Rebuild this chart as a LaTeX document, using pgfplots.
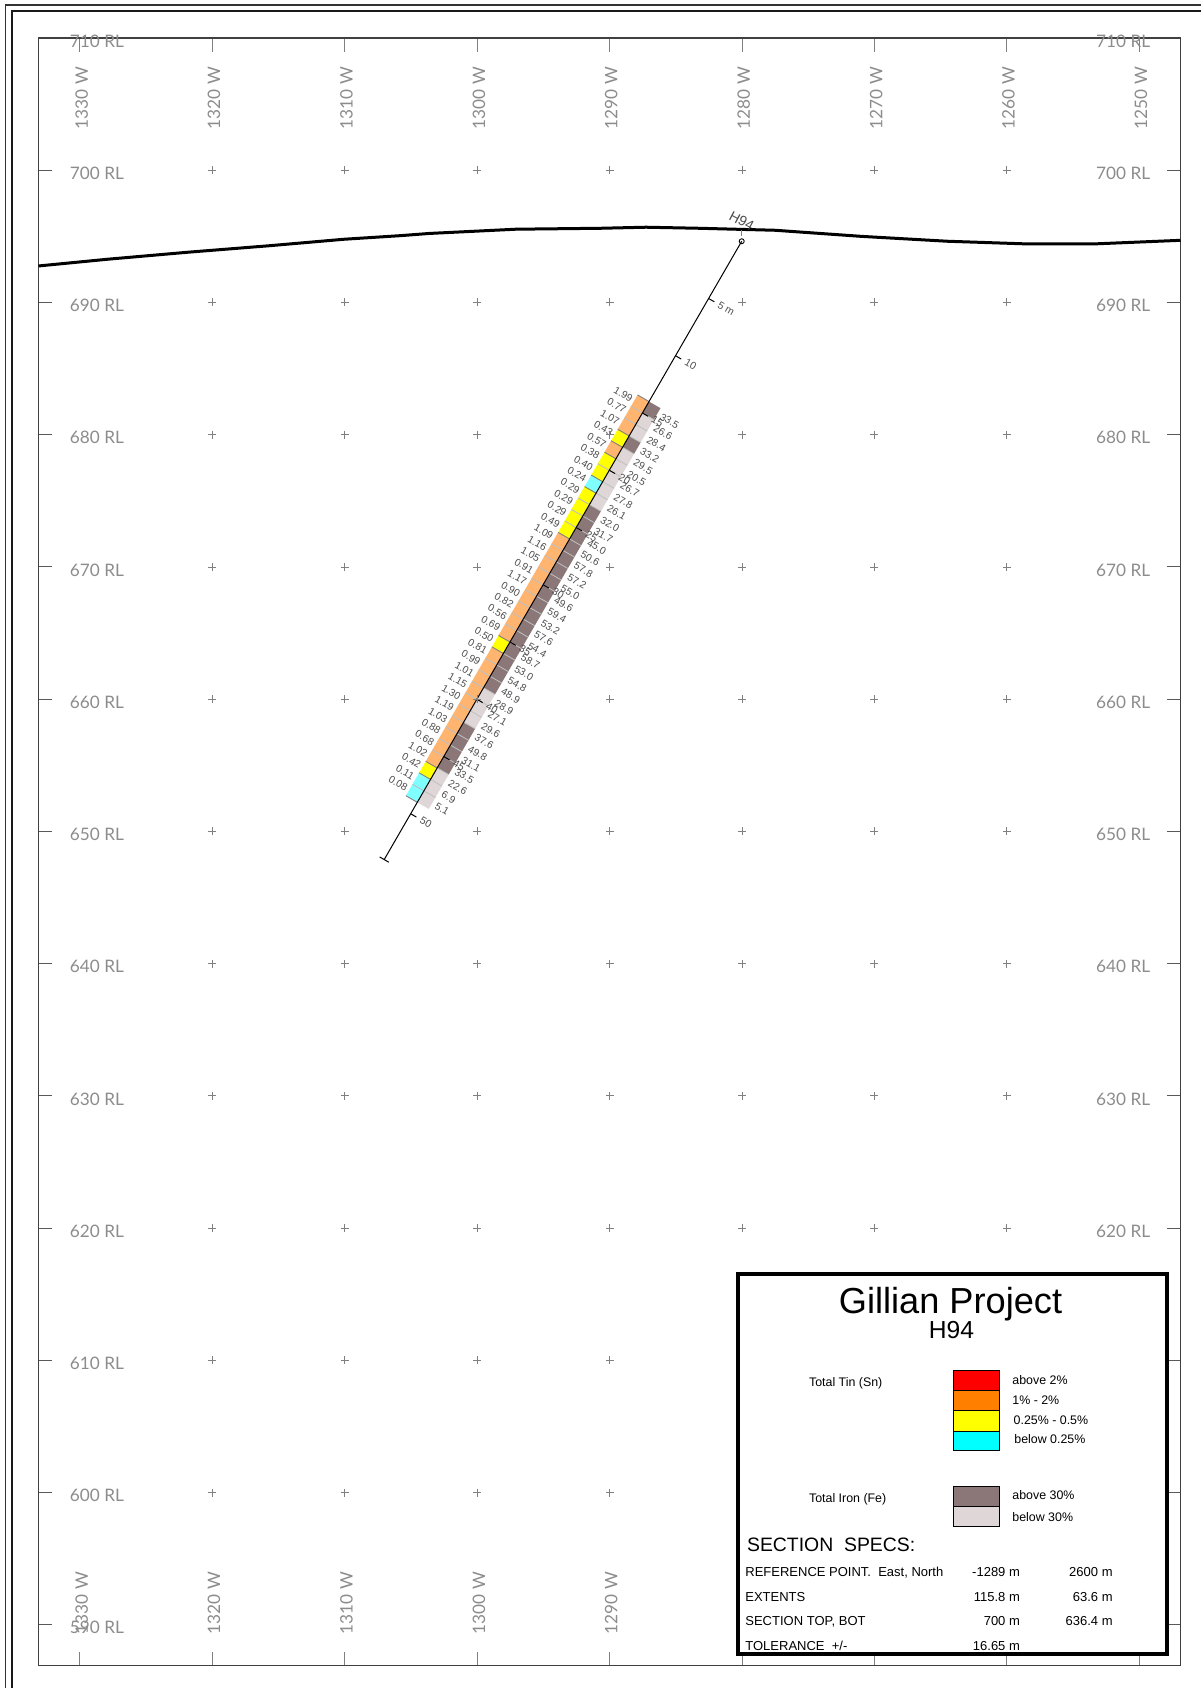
\documentclass[border=0pt]{standalone}
\usepackage{fontspec}
\setmainfont{Liberation Sans}
\newfontfamily\lato{Lato}
\usepackage{pgfplots}
\usepackage{pgfplotstable}
\usetikzlibrary{plotmarks}
\pgfplotsset{compat=1.18}
\definecolor{snred}{HTML}{FF0000}
\definecolor{snorange}{HTML}{FF8000}
\definecolor{snyellow}{HTML}{FFFF00}
\definecolor{sncyan}{HTML}{00FFFF}
\definecolor{stripor}{HTML}{FFB470}
\definecolor{stripcy}{HTML}{7FFFFF}
\definecolor{fedark}{HTML}{8B7777}
\definecolor{felight}{HTML}{DFD7D7}
\definecolor{gridtxt}{gray}{0.55}
\definecolor{smalltxt}{gray}{0.30}
\pgfplotstableread{
d sn fe
14 1.99 33.5
15 0.77 26.6
16 1.07 28.4
17 0.43 33.2
18 0.57 29.5
19 0.38 20.5
20 0.40 26.7
21 0.24 27.8
22 0.29 26.1
23 0.29 32.0
24 0.29 31.7
25 0.49 45.0
26 1.09 50.6
27 1.16 57.8
28 1.05 57.2
29 0.91 55.0
30 1.17 49.6
31 0.90 59.4
32 0.82 53.2
33 0.56 57.6
34 0.69 54.4
35 0.50 58.7
36 0.81 53.0
37 0.99 54.8
38 1.01 48.9
39 1.15 28.9
40 1.30 27.1
41 1.19 29.6
42 1.03 37.6
43 0.88 49.8
44 0.68 31.1
45 1.02 33.5
46 0.42 22.6
47 0.11 6.9
48 0.08 5.1
}\holedata
% position along the hole: depth, perpendicular offset (metres) -> easting, RL
\newcommand{\HP}[4]{\pgfmathsetmacro{#3}{-1280.02-0.5*(#1)+0.866*(#2)}\pgfmathsetmacro{#4}{694.63-0.866*(#1)-0.5*(#2)}}
\newcommand{\snclass}[1]{%
  \ifdim#1pt<0.25pt \def\cls{stripcy}\else\ifdim#1pt>0.5pt \def\cls{stripor}\else\def\cls{snyellow}\fi\fi}
\tikzset{
  gridlab/.style={inner sep=0pt,text=gridtxt,font=\lato\fontsize{8.6}{8.6}\selectfont},
  snlab/.style={inner sep=0pt,rotate=-30,anchor=east,text=smalltxt,font=\fontsize{5.1}{5.1}\selectfont},
  felab/.style={inner sep=0pt,rotate=-30,anchor=west,text=smalltxt,font=\fontsize{5.1}{5.1}\selectfont},
  dplab/.style={inner sep=0pt,rotate=-30,anchor=west,text=smalltxt,font=\fontsize{5.2}{5.2}\selectfont},
}
\begin{document}
\begin{tikzpicture}
\begin{scope}[x=0.5pt,y=-0.5pt]
  \path[use as bounding box] (0,0) rectangle (1201,1688);
  \draw[black!80,line width=0.6pt] (5.3,1688) -- (5.3,4.9) -- (1201,4.9);
  \draw[black!90,line width=0.6pt] (12,1688) -- (12,10.9) -- (1201,10.9);
\end{scope}
\begin{axis}[
  at={(19.25pt,-832.85pt)},anchor=south west,
  scale only axis,width=571pt,height=813.85pt,
  xmin=-1333.13,xmax=-1246.88,ymin=586.9,ymax=710,
  xtick={-1330,-1320,-1310,-1300,-1290,-1280,-1270,-1260,-1250},
  ytick={590,600,610,620,630,640,650,660,670,680,690,700,710},
  xticklabels={},yticklabels={},
  tick align=inside,major tick length=6.75pt,
  x tick style={gray,line width=0.45pt},
  y tick style={black!65,line width=0.45pt},
  axis line style={black!75,line width=0.55pt},
  clip=false,
]
% grid crosses
\addplot[only marks,mark=+,mark size=2pt,mark options={draw=gray,line width=0.35pt}] table {
-1320 700
-1310 700
-1300 700
-1290 700
-1280 700
-1270 700
-1260 700
-1320 690
-1310 690
-1300 690
-1290 690
-1280 690
-1270 690
-1260 690
-1320 680
-1310 680
-1300 680
-1290 680
-1280 680
-1270 680
-1260 680
-1320 670
-1310 670
-1300 670
-1290 670
-1280 670
-1270 670
-1260 670
-1320 660
-1310 660
-1300 660
-1290 660
-1280 660
-1270 660
-1260 660
-1320 650
-1310 650
-1300 650
-1290 650
-1280 650
-1270 650
-1260 650
-1320 640
-1310 640
-1300 640
-1290 640
-1280 640
-1270 640
-1260 640
-1320 630
-1310 630
-1300 630
-1290 630
-1280 630
-1270 630
-1260 630
-1320 620
-1310 620
-1300 620
-1290 620
-1280 620
-1270 620
-1260 620
-1320 610
-1310 610
-1300 610
-1290 610
-1280 610
-1270 610
-1260 610
-1320 600
-1310 600
-1300 600
-1290 600
-1280 600
-1270 600
-1260 600
};
% terrain surface
\addplot[black,line width=1.5pt] coordinates {
(-1333.13,692.76)(-1327.9,693.27)(-1321.84,693.8)(-1315.7,694.29)
(-1310.06,694.78)(-1305.83,695.05)(-1303.6,695.22)(-1297.07,695.54)
(-1290.7,695.61)(-1287.25,695.69)(-1283.2,695.61)(-1277.5,695.46)(-1271.0,695.0)
(-1264.5,694.63)(-1258.85,694.44)(-1253.1,694.44)(-1246.88,694.7)};
% grid labels
\pgfplotsforeachungrouped \rl in {590,600,...,710}{
  \pgfmathsetmacro{\yy}{\rl-0.23}
  \edef\temp{\noexpand\node[gridlab] at (axis cs:-1328.72,\yy) {\rl\space RL};
             \noexpand\node[gridlab] at (axis cs:-1251.21,\yy) {\rl\space RL};}
  \temp
}
\pgfplotsforeachungrouped \ee in {1330,1320,...,1250}{
  \pgfmathsetmacro{\xx}{-\ee+0.13}
  \edef\temp{\noexpand\node[gridlab,rotate=90] at (axis cs:\xx,705.45) {\ee\space W};
             \noexpand\node[gridlab,rotate=90] at (axis cs:\xx,591.64) {\ee\space W};}
  \temp
}
% assay strips
\def\prevcls{none}
\pgfplotsforeachungrouped \i in {0,...,34}{
  \pgfplotstablegetelem{\i}{d}\of\holedata \let\vD\pgfplotsretval
  \pgfplotstablegetelem{\i}{sn}\of\holedata \let\vSn\pgfplotsretval
  \pgfplotstablegetelem{\i}{fe}\of\holedata \let\vFe\pgfplotsretval
  \pgfmathsetmacro{\dn}{\vD+1}
  \pgfmathsetmacro{\dm}{\vD+0.5}
  \HP{\vD}{-1}{\ax}{\ay}\HP{\vD}{0}{\bx}{\by}\HP{\vD}{1}{\cx}{\cy}
  \HP{\dn}{-1}{\dx}{\dy}\HP{\dn}{0}{\ex}{\ey}\HP{\dn}{1}{\fx}{\fy}
  \HP{\dm}{-1.18}{\lx}{\ly}\HP{\dm}{1.3}{\rx}{\ry}
  \snclass{\vSn}
  \ifdim\vFe pt>30pt \def\fcol{fedark}\else\def\fcol{felight}\fi
  \edef\temp{%
    \noexpand\addplot[fill=\cls,draw=none] coordinates {(\ax,\ay)(\bx,\by)(\ex,\ey)(\dx,\dy)};
    \noexpand\addplot[fill=\fcol,draw=none] coordinates {(\bx,\by)(\cx,\cy)(\fx,\fy)(\ex,\ey)};
    \noexpand\node[snlab] at (axis cs:\lx,\ly) {\vSn};
    \noexpand\node[felab] at (axis cs:\rx,\ry) {\vFe};
  }\temp
}
% interval separators
\pgfplotsforeachungrouped \i in {1,...,34}{
  \pgfplotstablegetelem{\i}{d}\of\holedata \let\vD\pgfplotsretval
  \HP{\vD}{0}{\bx}{\by}\HP{\vD}{1}{\cx}{\cy}
  \edef\temp{\noexpand\addplot[color=black!25,line width=0.4pt] coordinates {(\bx,\by)(\cx,\cy)};}\temp
}
\pgfplotsforeachungrouped \i in {0,...,35}{
  \ifnum\i<35
    \pgfplotstablegetelem{\i}{d}\of\holedata \let\vD\pgfplotsretval
    \pgfplotstablegetelem{\i}{sn}\of\holedata \let\vSn\pgfplotsretval
    \snclass{\vSn}
  \else
    \def\vD{49}\def\cls{none}
  \fi
  \HP{\vD}{-1}{\ax}{\ay}\HP{\vD}{0}{\bx}{\by}
  \ifx\cls\prevcls \def\sepc{black!25}\else\def\sepc{black!50}\fi
  \global\let\prevcls\cls
  \edef\temp{\noexpand\addplot[color=\sepc,line width=0.45pt] coordinates {(\ax,\ay)(\bx,\by)};}\temp
}
% drill hole
\addplot[black,line width=0.5pt] coordinates {(-1280.02,694.63)(-1307.02,647.87)};
\addplot[gray,line width=0.4pt] coordinates {(-1280.02,695.45)(-1280.02,695.0)};
\addplot[only marks,mark=o,mark size=1.25pt,mark options={draw=black,line width=0.45pt,fill=white}] coordinates {(-1280.02,694.63)};
\HP{54}{-0.4}{\ax}{\ay}\HP{54}{0.4}{\bx}{\by}
\addplot[black,line width=0.5pt] coordinates {(\ax,\ay)(\bx,\by)};
\pgfplotsforeachungrouped \t in {5,10,...,50}{
  \HP{\t}{0}{\ax}{\ay}\HP{\t}{0.5}{\bx}{\by}\HP{\t}{0.85}{\lx}{\ly}
  \ifnum\t=5 \def\tl{5 m}\else\edef\tl{\t}\fi
  \edef\temp{\noexpand\addplot[black,line width=0.5pt] coordinates {(\ax,\ay)(\bx,\by)};
    \noexpand\node[dplab] at (axis cs:\lx,\ly) {\tl};}\temp
}
\node[inner sep=0pt,rotate=-28,text=smalltxt,font=\fontsize{7}{7}\selectfont] at (axis cs:-1280.02,696.16) {H94};
\end{axis}
% title block
\begin{scope}[x=0.5pt,y=-0.5pt,lab/.style={inner sep=0pt,anchor=base west},rl/.style={inner sep=0pt,anchor=base east}]
  \draw[black,line width=2pt,fill=white] (737.5,1274.3) rectangle (1167.3,1654.3);
  \node[inner sep=0pt,anchor=base,font=\fontsize{18.1}{18}\selectfont] at (950.5,1313.5) {Gillian Project};
  \node[inner sep=0pt,anchor=base,font=\fontsize{12.3}{12.3}\selectfont] at (951.5,1338) {H94};
  \begin{scope}[font=\fontsize{6.2}{6.2}\selectfont]
    \node[lab] at (808.7,1386) {Total Tin (Sn)};
    \node[lab] at (808.7,1502) {Total Iron (Fe)};
    \node[lab] at (1012,1384) {above 2\%};
    \node[lab] at (1012,1404) {1\% - 2\%};
    \node[lab] at (1013.3,1424) {0.25\% - 0.5\%};
    \node[lab] at (1014,1443.3) {below 0.25\%};
    \node[lab] at (1012,1499.3) {above 30\%};
    \node[lab] at (1012,1521) {below 30\%};
  \end{scope}
  \begin{scope}[draw=black,line width=0.4pt]
    \filldraw[fill=snred] (953,1370.3) rectangle (999.7,1390.3);
    \filldraw[fill=snorange] (953,1390.3) rectangle (999.7,1410.7);
    \filldraw[fill=snyellow] (953,1410.7) rectangle (999.7,1431);
    \filldraw[fill=sncyan] (953,1431) rectangle (999.7,1450);
    \filldraw[fill=fedark] (953,1486.7) rectangle (999.7,1506.7);
    \filldraw[fill=felight] (953,1506.7) rectangle (999.7,1526.3);
  \end{scope}
  \node[lab,font=\fontsize{9.7}{9.7}\selectfont] at (746.7,1551) {SECTION\ \ SPECS:};
  \begin{scope}[font=\fontsize{6.5}{6.5}\selectfont]
    \node[lab] at (745,1576.7) {REFERENCE POINT.\ \ East, North};
    \node[rl] at (1020.3,1576.7) {-1289 m};
    \node[rl] at (1113,1576.7) {2600 m};
    \node[lab] at (745,1601.3) {EXTENTS};
    \node[rl] at (1020.3,1601.3) {115.8 m};
    \node[rl] at (1113,1601.3) {63.6 m};
    \node[lab] at (745,1625.7) {SECTION TOP, BOT};
    \node[rl] at (1020.3,1625.7) {700 m};
    \node[rl] at (1113,1625.7) {636.4 m};
    \node[lab] at (745,1650.7) {TOLERANCE\ \ +/-};
    \node[rl] at (1020.3,1650.7) {16.65 m};
  \end{scope}
\end{scope}
\end{tikzpicture}
\end{document}
